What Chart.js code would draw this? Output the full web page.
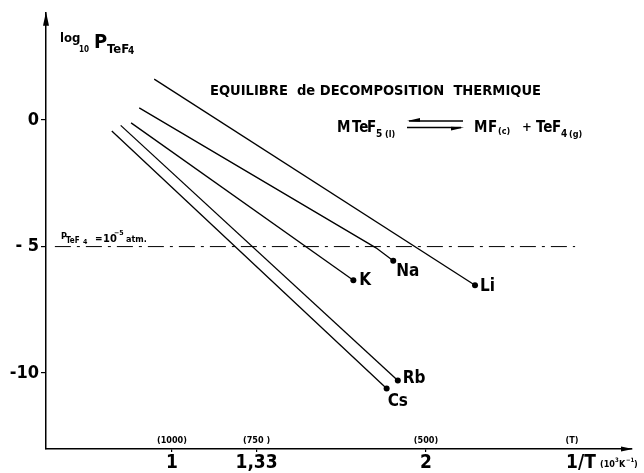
<!DOCTYPE html>
<html>
<head>
<meta charset="utf-8">
<script src="https://cdn.jsdelivr.net/npm/chart.js@4/dist/chart.umd.min.js"></script>
<style>
html,body{margin:0;padding:0;background:#fff;}
canvas{display:block;}
</style>
</head>
<body>
<canvas id="c" width="644" height="473"></canvas>
<script>
// ---- data ----
const series     = ['Li', 'Na', 'K', 'Rb', 'Cs'];
const invT_start = [0.930, 0.871, 0.839, 0.798, 0.763];
const logP_start = [1.62, 0.48, -0.11, -0.21, -0.43];
const invT_bend  = [null, 1.803, null, null, null];
const logP_bend  = [null, -5.05, null, null, null];
const invT_end   = [2.193, 1.871, 1.714, 1.889, 1.845];
const logP_end   = [-6.53, -5.56, -6.33, -10.29, -10.61];

const thresholdLog = -5;
const thresholdInvT = [0.539, 2.587];

const xTicks = [1, 1.333, 2];
const xTickLabels = ['1', '1,33', '2'];
const tempLabels = ['(1000)', '(750 )', '(500)'];
const yTicks = [0, -5, -10];
const yTickLabels = ['0', '- 5', '-10'];

const X_MIN = 0.504, X_MAX = 2.811, Y_MIN = -13.0, Y_MAX = 4.24;

// ---- styles ----
const FONT = '"DejaVu Sans Condensed", "Liberation Sans Narrow", "DejaVu Sans", sans-serif';
const fnt = (s) => `bold ${s}px ${FONT}`;

const datasets = series.map((name, i) => {
  const pts = [{x: invT_start[i], y: logP_start[i]}];
  if (invT_bend[i] !== null) pts.push({x: invT_bend[i], y: logP_bend[i]});
  pts.push({x: invT_end[i], y: logP_end[i]});
  return {
    label: name,
    data: pts,
    showLine: true,
    borderColor: '#000',
    backgroundColor: '#000',
    borderWidth: 1.3,
    pointRadius: pts.map((p, k) => k === pts.length - 1 ? 3 : 0),
    pointBorderWidth: 0,
    tension: 0
  };
});
datasets.push({
  label: 'threshold',
  data: thresholdInvT.map(v => ({x: v, y: thresholdLog})),
  showLine: true,
  borderColor: '#000',
  borderWidth: 1,
  borderDash: [16, 6, 3, 6],
  pointRadius: 0
});

// label offsets (pixels) relative to the end dot
const labelOffsets = {Li: [5, 1], Na: [3, 11], K: [6, 0], Rb: [5, -2], Cs: [1, 13]};

function runs(ctx, parts) {
  // parts: [text, size, x, baselineY]
  ctx.textAlign = 'left';
  ctx.textBaseline = 'alphabetic';
  for (const p of parts) { ctx.font = fnt(p[1]); ctx.fillText(p[0], p[2], p[3]); }
}
function fitted(ctx, text, x, y, w, size) {
  ctx.font = fnt(size);
  const m = ctx.measureText(text).width;
  ctx.save(); ctx.translate(x, y); ctx.scale(w / m, 1);
  ctx.textAlign = 'left'; ctx.textBaseline = 'alphabetic';
  ctx.fillText(text, 0, 0); ctx.restore();
}

const annot = {
  id: 'annot',
  afterDraw(chart) {
    const ctx = chart.ctx;
    const xs = chart.scales.x, ys = chart.scales.y;
    const ca = chart.chartArea;
    ctx.save();
    ctx.fillStyle = '#000';
    ctx.strokeStyle = '#000';

    // arrow heads
    ctx.beginPath();
    ctx.moveTo(ca.left, ca.top - 1);
    ctx.lineTo(ca.left - 3, ca.top + 13);
    ctx.lineTo(ca.left + 3, ca.top + 13);
    ctx.closePath(); ctx.fill();
    ctx.beginPath();
    ctx.moveTo(ca.right + 1, ca.bottom);
    ctx.lineTo(ca.right - 11, ca.bottom - 2.5);
    ctx.lineTo(ca.right - 11, ca.bottom + 2.5);
    ctx.closePath(); ctx.fill();

    // series labels
    ctx.textBaseline = 'middle';
    ctx.textAlign = 'left';
    ctx.font = fnt(17);
    series.forEach((name, i) => {
      const px = xs.getPixelForValue(invT_end[i]);
      const py = ys.getPixelForValue(logP_end[i]);
      const o = labelOffsets[name];
      ctx.fillText(name, px + o[0], py + o[1]);
    });

    // temperature labels above x axis
    ctx.textAlign = 'center';
    ctx.textBaseline = 'alphabetic';
    ctx.font = fnt(9);
    xTicks.forEach((v, i) => ctx.fillText(tempLabels[i], xs.getPixelForValue(v), ca.bottom - 6));
    ctx.fillText('(T)', 572, ca.bottom - 6);

    // x axis title
    runs(ctx, [['1/T', 19, 566, 468], ['(10', 9, 600, 467], ['3', 6, 615, 462], ['K', 9, 619, 467], ['\u22121', 6, 626, 462], [')', 9, 634, 467]]);

    // y axis title
    runs(ctx, [['log', 13, 60, 42], ['10', 8, 79, 52], ['P', 20, 94, 48], ['TeF', 13, 107, 53], ['4', 10, 128, 54]]);

    // threshold label
    runs(ctx, [['P', 9, 61, 239], ['TeF', 8, 66, 243], ['4', 7, 83, 244], ['=', 10, 95, 242], ['10', 11, 103, 242], ['\u22125', 7, 114, 235], ['atm.', 9, 126, 242]]);

    // title
    fitted(ctx, 'EQUILIBRE  de DECOMPOSITION  THERMIQUE', 210, 95, 331, 14);

    // equation
    runs(ctx, [['M', 15, 337, 132], ['Te', 15, 352, 132], ['F', 15, 367, 132], ['5', 10, 376, 137], ['(l)', 9, 385, 137],
               ['M', 15, 474, 132], ['F', 15, 488, 132], ['(c)', 9, 498, 134], ['+', 13, 522, 131],
               ['Te', 15, 536, 132], ['F', 15, 552, 132], ['4', 10, 561, 137], ['(g)', 9, 569, 137]]);
    // equilibrium arrows
    ctx.lineWidth = 1.6;
    ctx.beginPath(); ctx.moveTo(409, 121); ctx.lineTo(463, 121); ctx.stroke();
    ctx.beginPath(); ctx.moveTo(407, 121); ctx.lineTo(420, 118); ctx.lineTo(420, 121.8); ctx.closePath(); ctx.fill();
    ctx.beginPath(); ctx.moveTo(407, 127.5); ctx.lineTo(461, 127.5); ctx.stroke();
    ctx.beginPath(); ctx.moveTo(464, 127.5); ctx.lineTo(451, 126.7); ctx.lineTo(451, 130.5); ctx.closePath(); ctx.fill();

    ctx.restore();
  }
};

new Chart(document.getElementById('c'), {
  type: 'scatter',
  data: {datasets},
  options: {
    responsive: false,
    animation: false,
    layout: {padding: {top: 10, right: 12, left: 0, bottom: 0}},
    plugins: {legend: {display: false}, tooltip: {enabled: false}},
    scales: {
      x: {
        type: 'linear', min: X_MIN, max: X_MAX,
        afterBuildTicks: s => { s.ticks = xTicks.map(v => ({value: v})); },
        afterFit: s => { s.height = 24; },
        ticks: {callback: (v, i) => xTickLabels[i], font: {family: FONT, size: 19, weight: 'bold'}, color: '#000', padding: 0, maxRotation: 0, autoSkip: false},
        grid: {drawOnChartArea: false, drawTicks: true, tickLength: 3, color: '#000', lineWidth: 1.2},
        border: {display: true, color: '#000', width: 1.5}
      },
      y: {
        type: 'linear', min: Y_MIN, max: Y_MAX,
        afterBuildTicks: s => { s.ticks = yTicks.map(v => ({value: v})); },
        afterFit: s => { s.width = 46; },
        ticks: {callback: (v, i) => yTickLabels[i], font: {family: FONT, size: 18, weight: 'bold'}, color: '#000', padding: 2, autoSkip: false},
        grid: {drawOnChartArea: false, drawTicks: true, tickLength: 5, color: '#000', lineWidth: 1.2},
        border: {display: true, color: '#000', width: 1.5}
      }
    }
  },
  plugins: [annot]
});
</script>
</body>
</html>
